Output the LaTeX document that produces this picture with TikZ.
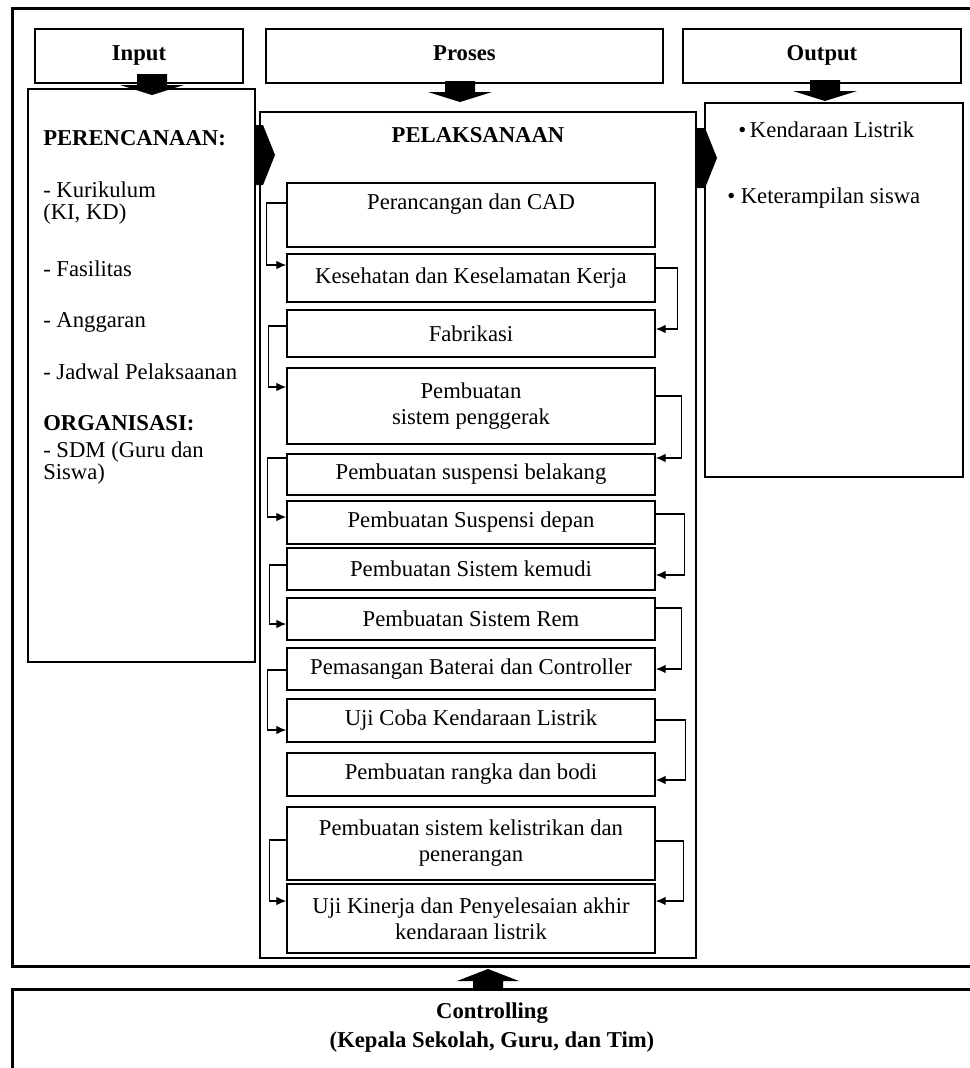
\documentclass[tikz,border=0pt]{standalone}
\usepackage{fontspec}
\setmainfont{Liberation Serif}
\usepackage{tikz}
\usetikzlibrary{arrows.meta}

\tikzset{
  downarr/.pic={\fill (-15,0) -- (15,0) -- (15,11) -- (32,11) -- (0,21) -- (-32,11) -- (-15,11) -- cycle;},
  rightarr/.pic={\fill (0,-30) -- (8,-30) -- (20,0) -- (8,30) -- (0,30) -- cycle;},
  uparr/.pic={\fill (-15,0) -- (15,0) -- (15,-7) -- (31,-7) -- (0,-19) -- (-31,-7) -- (-15,-7) -- cycle;},
}

\begin{document}
\begin{tikzpicture}[
  x=0.75pt, y=-0.75pt,
  font=\fontsize{17}{19.5}\selectfont,
  headbox/.style={draw, line width=1.1pt, minimum height=40.5pt, inner sep=0pt, text height=12pt, text depth=5pt, font=\fontsize{17}{19.5}\selectfont\bfseries},
  panel/.style={draw, line width=0.8pt, inner sep=0pt},
  stepbox/.style={draw, line width=1.1pt, minimum width=276pt, align=center, inner sep=0pt},
  txt/.style={anchor=base west, inner sep=0pt},
  btxt/.style={txt, font=\fontsize{17}{19.5}\selectfont\bfseries},
  conn/.style={-{Latex[length=7.5pt,width=6.5pt]}, line width=1pt},
]
\useasboundingbox (0,0) rectangle (970,1068);

% --- Frames ---
\node[draw, line width=2.25pt, minimum width=722.25pt, minimum height=718.5pt] (frame) at (493.5,487) {};
\node[draw, line width=2.25pt, minimum width=722.25pt, minimum height=64.5pt] (ctrl) at (493.5,1032) {};
\node[align=center, font=\fontsize{17}{19.5}\selectfont\bfseries] (ctrltxt) at (492,1027.5) {Controlling\\[2.25pt](Kepala Sekolah, Guru, dan Tim)};

% --- Headers ---
\node[headbox, minimum width=156pt] (inhead) at (139,56) {Input};
\node[headbox, minimum width=297.75pt] (prhead) at (464.5,56) {Proses};
\node[headbox, minimum width=208.5pt] (outhead) at (822,56) {Output};

% --- Panels ---
\node[panel, minimum width=170.25pt, minimum height=429.75pt] (inbox) at (141.5,375.5) {};
\node[panel, minimum width=327pt, minimum height=634.5pt] (prbox) at (478,535) {};
\node[panel, minimum width=193.5pt, minimum height=280.5pt] (outbox) at (834,290) {};

% --- Input ---
\node[btxt] (plan) at (43,145) {PERENCANAAN:};
\node[txt] (kur) at (43,197) {- Kurikulum};
\node[txt] (kikd) at (43,219) {(KI, KD)};
\node[txt] (fas) at (43,276) {- Fasilitas};
\node[txt] (ang) at (43,327) {- Anggaran};
\node[txt] (jad) at (43,379) {- Jadwal Pelaksaanan};
\node[btxt] (org) at (43,430) {ORGANISASI:};
\node[txt] (sdm) at (43,457) {- SDM (Guru dan};
\node[txt] (sis) at (43,479) {Siswa)};

% --- Output ---
\node[txt] (ev) at (738,137) {\textbullet\,Kendaraan Listrik};
\node[txt] (skill) at (727,203) {\textbullet\ Keterampilan siswa};

% --- Proses ---
\node[btxt, anchor=base] (pel) at (478,142) {PELAKSANAAN};
\node[stepbox, minimum height=48pt]    (s1)  at (471,215)   {Perancangan dan CAD\\\mbox{}};
\node[stepbox, minimum height=36pt]    (s2)  at (471,278)   {Kesehatan dan Keselamatan Kerja};
\node[stepbox, minimum height=35.25pt] (s3)  at (471,333.5) {Fabrikasi};
\node[stepbox, minimum height=57pt]    (s4)  at (471,406)   {Pembuatan\\sistem penggerak};
\node[stepbox, minimum height=30.75pt] (s5)  at (471,474.5) {Pembuatan suspensi belakang};
\node[stepbox, minimum height=32.25pt] (s6)  at (471,522.5) {Pembuatan Suspensi depan};
\node[stepbox, minimum height=31.5pt]  (s7)  at (471,569)   {Pembuatan Sistem kemudi};
\node[stepbox, minimum height=31.5pt]  (s8)  at (471,619)   {Pembuatan Sistem Rem};
\node[stepbox, minimum height=31.5pt]  (s9)  at (471,669)   {Pemasangan Baterai dan Controller};
\node[stepbox, minimum height=32.25pt] (s10) at (471,720.5) {Uji Coba Kendaraan Listrik};
\node[stepbox, minimum height=32.25pt] (s11) at (471,774.5) {Pembuatan rangka dan bodi};
\node[stepbox, minimum height=54.75pt] (s12) at (471,843.5) {Pembuatan sistem kelistrikan dan\\penerangan};
\node[stepbox, minimum height=51.75pt] (s13) at (471,918.5) {Uji Kinerja dan Penyelesaian akhir\\kendaraan listrik};

% --- Edges ---
\draw[conn] (s1.west |- 0,203) -- ++(-20,0) |- (s2.west |- 0,265);
\draw[conn] (s2.east |- 0,268) -- ++(22,0) |- (s3.east |- 0,329);
\draw[conn] (s3.west |- 0,326) -- ++(-18,0) |- (s4.west |- 0,387);
\draw[conn] (s4.east |- 0,396) -- ++(26,0) |- (s5.east |- 0,458);
\draw[conn] (s5.west |- 0,458) -- ++(-19,0) |- (s6.west |- 0,517);
\draw[conn] (s6.east |- 0,514) -- ++(29,0) |- (s7.east |- 0,575);
\draw[conn] (s7.west |- 0,565) -- ++(-17,0) |- (s8.west |- 0,624);
\draw[conn] (s8.east |- 0,608) -- ++(26,0) |- (s9.east |- 0,669);
\draw[conn] (s9.west |- 0,670) -- ++(-19,0) |- (s10.west |- 0,730);
\draw[conn] (s10.east |- 0,720) -- ++(30,0) |- (s11.east |- 0,780);
\draw[conn] (s12.west |- 0,840) -- ++(-17,0) |- (s13.west |- 0,901);
\draw[conn] (s12.east |- 0,841) -- ++(28,0) |- (s13.east |- 0,901);

% --- Block arrows ---
\pic at (152,74) {downarr};
\pic at (460,81) {downarr};
\pic at (825,80) {downarr};
\pic at (255,155) {rightarr};
\pic at (697,158) {rightarr};
\pic at (488,988) {uparr};
\end{tikzpicture}
\end{document}
